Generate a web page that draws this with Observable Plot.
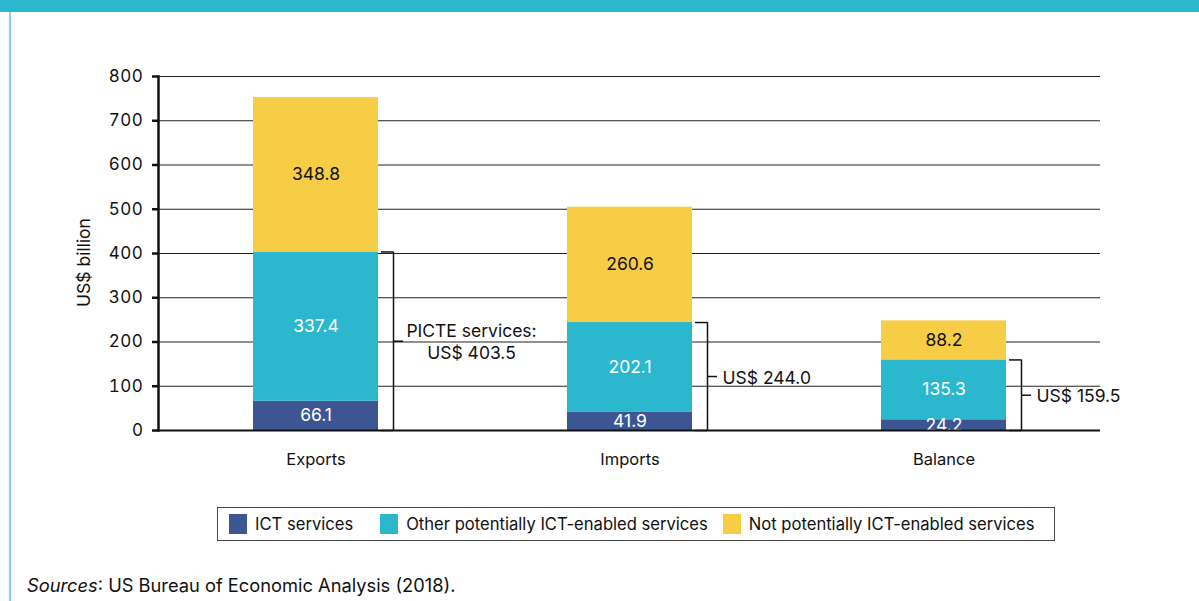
<!DOCTYPE html>
<html><head><meta charset="utf-8">
<script src="https://cdn.jsdelivr.net/npm/d3@7"></script>
<script src="https://cdn.jsdelivr.net/npm/@observablehq/plot@0.6"></script>
<style>
body{margin:0;background:#fff;font-family:Inter,"Liberation Sans",Arial,sans-serif;color:#111;}
#page{position:relative;width:1199px;height:601px;overflow:hidden;background:#fff;}
#topband{position:absolute;left:0;top:0;width:1199px;height:12px;background:#2bb8cf;}
#leftline{position:absolute;left:9px;top:12px;width:2px;height:589px;background:#8ad6e4;}
#chart{position:absolute;left:0;top:0;}
#chart g[aria-label="y-axis tick label"] text{letter-spacing:0.6px;}
#legend{position:absolute;left:217px;top:507px;width:838px;height:34px;border:1px solid #444;display:flex;align-items:center;padding-left:11px;box-sizing:border-box;font-size:16.6px;}
#legend .item{display:flex;align-items:center;white-space:nowrap;}
#legend .item:nth-child(1){margin-right:27px;}
#legend .item:nth-child(2){margin-right:15px;}
#legend .sw{width:18px;height:20px;margin-right:8px;}
#caption{position:absolute;left:27px;top:574px;font-size:18.3px;}
</style>
</head><body>
<div id="page">
  <div id="topband"></div>
  <div id="leftline"></div>
  <div id="chart"></div>
  <div id="legend"></div>
  <div id="caption"><i>Sources</i>: US Bureau of Economic Analysis (2018).</div>
</div>
<script>
const categories = ["Exports", "Imports", "Balance"];
const ictServices = [66.1, 41.9, 24.2];
const otherIctEnabled = [337.4, 202.1, 135.3];
const notIctEnabled = [348.8, 260.6, 88.2];
const picteTotals = [403.5, 244.0, 159.5];
const picteLabels = ["PICTE services:\nUS$ 403.5", "US$ 244.0", "US$ 159.5"];
const seriesNames = ["ICT services", "Other potentially ICT-enabled services", "Not potentially ICT-enabled services"];
const seriesColors = ["#3d5593", "#2bb8cf", "#f6cd45"];
const yTicks = [0, 100, 200, 300, 400, 500, 600, 700, 800];

const seriesValues = [ictServices, otherIctEnabled, notIctEnabled];
const rows = [];
categories.forEach((c, i) => {
  seriesNames.forEach((s, j) => rows.push({cat: c, series: s, value: seriesValues[j][i]}));
});
const picteRows = categories.map((c, i) => ({cat: c, total: picteTotals[i], mid: picteTotals[i] / 2, label: picteLabels[i]}));

const font = "Inter, Liberation Sans, Arial, sans-serif";
const brack = {stroke: "#111", strokeWidth: 1.5};

const chart = Plot.plot({
  width: 1199,
  height: 480,
  marginLeft: 158,
  marginRight: 99,
  marginTop: 76,
  marginBottom: 50,
  style: {fontFamily: font, fontSize: "16px", background: "transparent", color: "#111"},
  x: {type: "band", domain: categories, paddingInner: 0.602, paddingOuter: 0.301},
  y: {domain: [0, 800]},
  color: {domain: seriesNames, range: seriesColors},
  marks: [
    Plot.ruleY(yTicks, {stroke: "#222", strokeWidth: 1}),
    Plot.barY(rows, {x: "cat", y: "value", fill: "series", order: seriesNames}),
    Plot.text(rows, Plot.stackY({x: "cat", y: "value", order: seriesNames, text: d => d.value.toFixed(1), fill: d => d.series === seriesNames[2] ? "#111" : "#fff", fontSize: 17.5})),
    Plot.ruleY([0], {stroke: "#111", strokeWidth: 2}),
    Plot.frame({anchor: "left", stroke: "#111", strokeWidth: 2.5}),
    Plot.axisY({ticks: yTicks, tickSize: 6, tickPadding: 9, fontSize: 17, strokeWidth: 2.5, label: null}),
    Plot.axisX({tickSize: 0, tickPadding: 23, fontSize: 16.5, label: null}),
    Plot.text(["US$ billion"], {frameAnchor: "left", textAnchor: "middle", rotate: -90, dx: -74, dy: 9, fontSize: 17.5, fill: "#111"}),
    // PICTE brackets
    Plot.ruleX(picteRows, {x: "cat", y1: 0, y2: "total", dx: 77.5, ...brack}),
    Plot.tickY(picteRows, {x: "cat", y: "total", dx: 128, insetRight: 113, ...brack}),
    Plot.tickY(picteRows, {x: "cat", y: 0, dx: 128, insetRight: 113, ...brack}),
    Plot.tickY(picteRows, {x: "cat", y: "mid", dx: 140, insetRight: 115, ...brack}),
    Plot.text(picteRows.slice(0, 1), {x: "cat", y: "mid", text: "label", dx: 155.5, textAnchor: "middle", lineHeight: 1.25, fontSize: 17.5, fill: "#111"}),
    Plot.text(picteRows.slice(1), {x: "cat", y: "mid", text: "label", dx: 92.5, dy: 1.5, textAnchor: "start", fontSize: 17.5, fill: "#111"})
  ]
});
document.getElementById("chart").appendChild(chart);

const legend = document.getElementById("legend");
seriesNames.forEach((s, i) => {
  const it = document.createElement("div");
  it.className = "item";
  const sw = document.createElement("div");
  sw.className = "sw";
  sw.style.background = seriesColors[i];
  const t = document.createElement("span");
  t.textContent = s;
  it.appendChild(sw); it.appendChild(t);
  legend.appendChild(it);
});
</script>
</body></html>
